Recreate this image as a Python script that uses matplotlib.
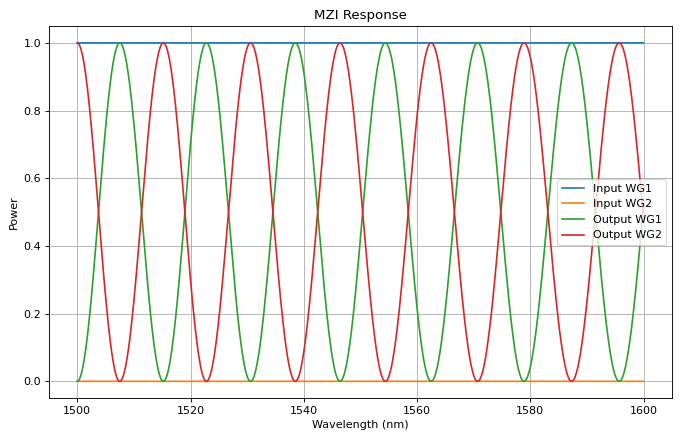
import numpy as np
import matplotlib
matplotlib.use("Agg")
import matplotlib.pyplot as plt

# wavelength span of the sweep (nm)
wl_start = 1500.0
wl_stop = 1600.0

# extrema (nm): alternating Output WG2 peak / Output WG1 peak
extrema_nm = [1500.0, 1507.5, 1515.2, 1522.8, 1530.6, 1538.5, 1546.4,
              1554.4, 1562.5, 1570.7, 1578.9, 1587.3, 1595.7]

input_wg1 = 1.0
input_wg2 = 0.0

labels = ["Input WG1", "Input WG2", "Output WG1", "Output WG2"]

# ===============================================================================
#         Build the curves from the read extrema
# ===============================================================================

wl = np.linspace(wl_start, wl_stop, 1500)
ext = np.array(extrema_nm)
# extend one half period past the last extremum so the sweep end is covered
ext = np.append(ext, ext[-1] + (ext[-1] - ext[-2]))
half_steps = np.arange(len(ext)) * np.pi / 2
theta = np.interp(wl, ext, half_steps)

out_wg2 = np.cos(theta) ** 2
out_wg1 = np.sin(theta) ** 2

fig, ax = plt.subplots(figsize=(8.5, 5.5), dpi=80)
ax.plot(wl, np.full_like(wl, input_wg1), label=labels[0])
ax.plot(wl, np.full_like(wl, input_wg2), label=labels[1])
ax.plot(wl, out_wg1, label=labels[2])
ax.plot(wl, out_wg2, label=labels[3])
ax.set_title("MZI Response")
ax.set_xlabel("Wavelength (nm)")
ax.set_ylabel("Power")
ax.grid(True)
ax.legend(loc="center right")
fig.subplots_adjust(left=0.072, right=0.988, bottom=0.095, top=0.941)
fig.savefig("out.png")
